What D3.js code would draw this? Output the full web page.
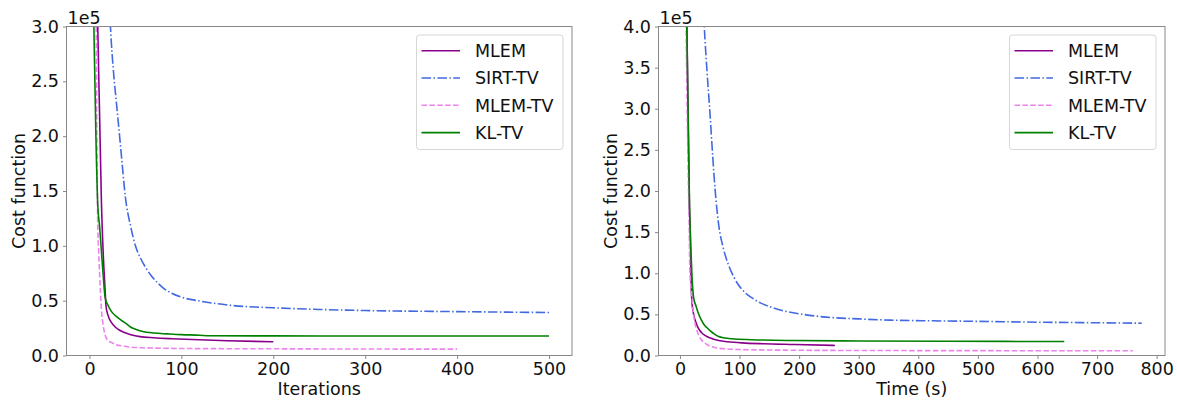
<!DOCTYPE html>
<html>
<head>
<meta charset="utf-8">
<script src="https://cdn.jsdelivr.net/npm/d3@7"></script>
<style>
  body { margin: 0; background: #fff; }
  text { font-family: "DejaVu Sans", sans-serif; fill: #111; }
</style>
</head>
<body>
<div class="canvas"></div>
<script>
// values of the cost function are in units of 1e5
const seriesNames = ['MLEM', 'SIRT-TV', 'MLEM-TV', 'KL-TV'];

// left panel: cost vs iterations
const mlemIter = [1, 4, 7, 9, 11, 13, 15, 17, 18, 20, 24, 28, 32, 38, 45, 55, 70, 90, 120, 150, 200];
const mlemIterCost = [25, 8, 4.2, 3.0, 2.2, 1.4, 0.92, 0.6, 0.45, 0.37, 0.30, 0.26, 0.235, 0.21, 0.19, 0.172, 0.162, 0.153, 0.143, 0.135, 0.125];

const sirtIter = [1, 5, 10, 15, 20, 23, 26, 29, 32, 35, 39, 45, 50, 56, 62, 67, 75, 81, 90, 100, 121, 157, 200, 250, 300, 400, 500];
const sirtIterCost = [20, 12, 7.5, 5, 3.6, 2.97, 2.6, 2.33, 2.07, 1.8, 1.45, 1.17, 1.0, 0.88, 0.79, 0.73, 0.655, 0.61, 0.565, 0.532, 0.495, 0.455, 0.435, 0.42, 0.41, 0.40, 0.392];

const mlemtvIter = [1, 4, 7, 8, 9, 10, 11, 13, 15, 17, 20, 24, 30, 36, 45, 60, 80, 100, 150, 200, 300, 400];
const mlemtvIterCost = [12, 5, 3.4, 2.0, 1.2, 0.95, 0.75, 0.42, 0.27, 0.19, 0.137, 0.118, 0.095, 0.087, 0.076, 0.07, 0.066, 0.064, 0.062, 0.061, 0.059, 0.058];

const kltvIter = [1, 3, 5, 7, 9, 11, 13, 15, 17, 20, 24, 28, 34, 40, 45, 50, 58, 70, 85, 100, 120, 130, 200, 300, 400, 500];
const kltvIterCost = [10, 4.2, 2.9, 2.0, 1.38, 1.18, 0.95, 0.72, 0.53, 0.46, 0.40, 0.365, 0.325, 0.29, 0.258, 0.24, 0.219, 0.205, 0.197, 0.19, 0.185, 0.18, 0.179, 0.178, 0.178, 0.178];

// right panel: cost vs time (s)
const mlemTime = [2, 6, 10, 12, 14, 16, 17.3, 18.4, 20, 23, 26, 31, 36, 42, 50, 65, 80, 104, 140, 193, 260];
const mlemTimeCost = [20, 9, 5, 3.84, 2.75, 1.78, 1.52, 1.0, 0.66, 0.5, 0.42, 0.33, 0.28, 0.245, 0.215, 0.182, 0.168, 0.154, 0.143, 0.134, 0.122];

const sirtTime = [2, 10, 20, 30, 36, 40.8, 45, 50.8, 55, 59.2, 64.8, 73, 81.5, 90, 98, 110, 121, 135, 150, 170, 190, 240, 300, 353, 420, 500, 600, 700, 775];
const sirtTimeCost = [20, 12, 8, 5.8, 4.8, 4.0, 3.5, 2.9, 2.42, 2.0, 1.6, 1.3, 1.1, 0.96, 0.86, 0.76, 0.70, 0.64, 0.595, 0.55, 0.52, 0.47, 0.445, 0.43, 0.422, 0.415, 0.405, 0.398, 0.393];

const mlemtvTime = [2, 6, 10, 13, 15.6, 16.7, 19, 22.8, 25, 28.5, 32, 37, 42, 48, 60, 76, 100, 193, 300, 500, 760];
const mlemtvTimeCost = [15, 7, 4.2, 2.6, 1.52, 1.0, 0.8, 0.5, 0.4, 0.304, 0.24, 0.182, 0.15, 0.122, 0.095, 0.081, 0.073, 0.064, 0.061, 0.059, 0.057];

const kltvTime = [2, 6, 10, 12, 14, 16, 18, 20, 23, 27, 31, 36, 40, 45, 51, 58, 65, 75, 87, 120, 193, 300, 450, 645];
const kltvTimeCost = [12, 7, 4.7, 3.75, 2.8, 1.85, 1.35, 1.0, 0.7, 0.6, 0.51, 0.43, 0.38, 0.34, 0.30, 0.26, 0.23, 0.213, 0.203, 0.192, 0.182, 0.177, 0.173, 0.17];

const iterTicks = [0, 100, 200, 300, 400, 500];
const timeTicks = [0, 100, 200, 300, 400, 500, 600, 700, 800];
const leftCostTicks = [0, 0.5, 1.0, 1.5, 2.0, 2.5, 3.0];
const rightCostTicks = [0, 0.5, 1.0, 1.5, 2.0, 2.5, 3.0, 3.5, 4.0];

const styles = {
    'MLEM': { color: '#8b008b', dash: null },
    'SIRT-TV': { color: '#4169e1', dash: '9.6,2.4,1.5,2.4' },
    'MLEM-TV': { color: '#ee82ee', dash: '5.5,2.4' },
    'KL-TV': { color: '#008000', dash: null }
};

const zip = (xs, ys) => xs.map((x, i) => ({ x: x, y: ys[i] }));

const panels = [
    {
        left: 66.5, right: 572, xDomain: [-25, 525], yMax: 3,
        xTicks: iterTicks, yTicks: leftCostTicks, xLabel: 'Iterations',
        series: [zip(mlemIter, mlemIterCost), zip(sirtIter, sirtIterCost),
                 zip(mlemtvIter, mlemtvIterCost), zip(kltvIter, kltvIterCost)]
    },
    {
        left: 658.5, right: 1165, xDomain: [-36, 814], yMax: 4,
        xTicks: timeTicks, yTicks: rightCostTicks, xLabel: 'Time (s)',
        series: [zip(mlemTime, mlemTimeCost), zip(sirtTime, sirtTimeCost),
                 zip(mlemtvTime, mlemtvTimeCost), zip(kltvTime, kltvTimeCost)]
    }
];

const axTop = 26.5, axBottom = 355.5;
const fontSize = 17.5;

const svg = d3.select('.canvas')
    .append('svg')
    .attr('width', 1177)
    .attr('height', 400);

panels.forEach((p, pi) => {
    const x = d3.scaleLinear().domain(p.xDomain).range([p.left, p.right]);
    const y = d3.scaleLinear().domain([0, p.yMax]).range([axBottom, axTop]);

    const clipId = 'clip' + pi;
    svg.append('clipPath').attr('id', clipId)
        .append('rect')
        .attr('x', p.left).attr('y', axTop)
        .attr('width', p.right - p.left).attr('height', axBottom - axTop);

    // curves
    const line = d3.line()
        .x(d => x(d.x))
        .y(d => y(d.y))
        .curve(d3.curveMonotoneX);

    const curves = svg.append('g').attr('clip-path', `url(#${clipId})`);
    p.series.forEach((data, i) => {
        const st = styles[seriesNames[i]];
        curves.append('path')
            .datum(data)
            .attr('d', line)
            .attr('fill', 'none')
            .attr('stroke', st.color)
            .attr('stroke-width', 1.6)
            .attr('stroke-dasharray', st.dash);
    });

    // axes
    const xAxis = d3.axisBottom(x)
        .tickValues(p.xTicks)
        .tickSize(3.5)
        .tickPadding(4)
        .tickFormat(d3.format('d'));
    const yAxis = d3.axisLeft(y)
        .tickValues(p.yTicks)
        .tickSize(3.5)
        .tickPadding(4)
        .tickFormat(d3.format('.1f'));

    const xAxisGroup = svg.append('g')
        .attr('transform', `translate(0, ${axBottom})`)
        .call(xAxis);
    const yAxisGroup = svg.append('g')
        .attr('transform', `translate(${p.left}, 0)`)
        .call(yAxis);

    [xAxisGroup, yAxisGroup].forEach(g => {
        g.select('.domain').remove();
        g.selectAll('line').attr('stroke', '#888');
        g.selectAll('text')
            .attr('font-size', fontSize)
            .attr('font-family', '"DejaVu Sans", sans-serif')
            .attr('fill', '#111');
    });

    // frame
    svg.append('rect')
        .attr('x', p.left).attr('y', axTop)
        .attr('width', p.right - p.left).attr('height', axBottom - axTop)
        .attr('fill', 'none')
        .attr('stroke', '#888')
        .attr('stroke-width', 1);

    // offset text
    svg.append('text')
        .attr('x', p.left + 1).attr('y', 24)
        .attr('font-size', fontSize)
        .text('1e5');

    // axis labels
    svg.append('text')
        .attr('x', (p.left + p.right) / 2).attr('y', 395)
        .attr('text-anchor', 'middle')
        .attr('font-size', fontSize)
        .text(p.xLabel);

    svg.append('text')
        .attr('transform', `translate(${p.left - 41.5}, ${(axTop + axBottom) / 2}) rotate(-90)`)
        .attr('text-anchor', 'middle')
        .attr('font-size', fontSize)
        .text('Cost function');

    // legend
    const lgW = 146.5, lgH = 114.5;
    const lgX = p.right - 9 - lgW, lgY = axTop + 8.5;
    const legend = svg.append('g').attr('transform', `translate(${lgX}, ${lgY})`);
    legend.append('rect')
        .attr('width', lgW).attr('height', lgH)
        .attr('rx', 3)
        .attr('fill', '#fff')
        .attr('fill-opacity', 0.8)
        .attr('stroke', '#d6d6d6');

    seriesNames.forEach((name, i) => {
        const st = styles[name];
        const ly = 15.7 + i * 27.3;
        legend.append('line')
            .attr('x1', 5).attr('x2', 43.5)
            .attr('y1', ly).attr('y2', ly)
            .attr('stroke', st.color)
            .attr('stroke-width', 1.6)
            .attr('stroke-dasharray', st.dash);
        legend.append('text')
            .attr('x', 58.5).attr('y', ly)
            .attr('dy', '0.36em')
            .attr('font-size', fontSize)
            .text(name);
    });
});
</script>
</body>
</html>
